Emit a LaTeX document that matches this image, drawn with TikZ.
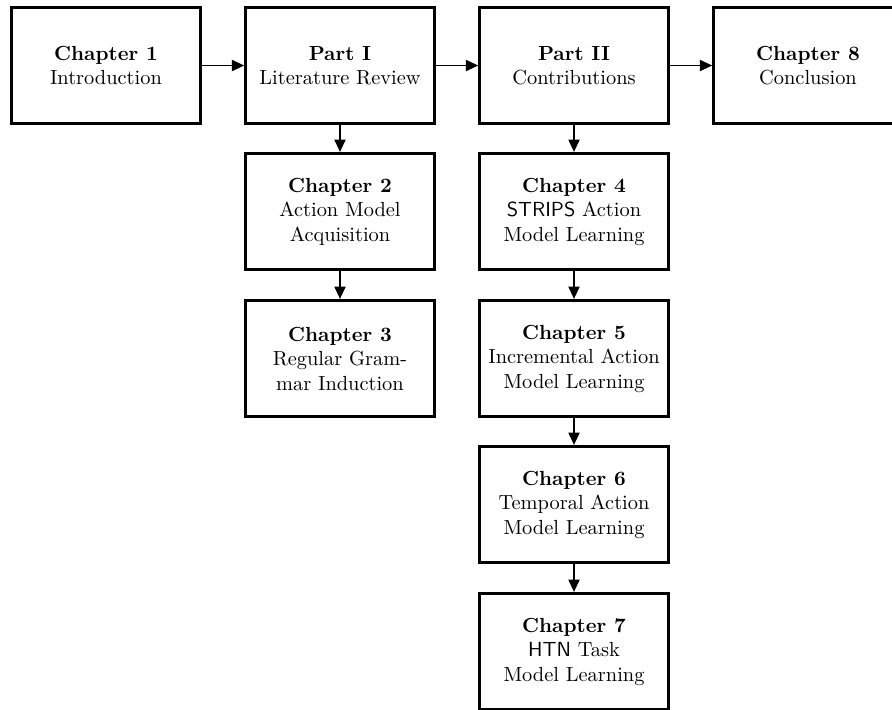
\documentclass[tikz,border=0pt]{standalone}
\usetikzlibrary{arrows.meta}
\begin{document}
\begin{tikzpicture}[x=0.49pt,y=-0.49pt,
  chbox/.style={draw, line width=1.45pt, minimum width=92.5pt, minimum height=57pt, align=center, font=\normalsize, inner sep=2pt},
  conn/.style={line width=0.6pt, -{Triangle[length=6pt,width=5.5pt]}}]
\useasboundingbox (0,0) rectangle (892,709);
\node[chbox] (c1) at (106,65.5) {\textbf{Chapter 1}\\Introduction};
\node[chbox] (p1) at (340,65.5) {\textbf{Part I}\\Literature Review};
\node[chbox] (p2) at (574,65.5) {\textbf{Part II}\\Contributions};
\node[chbox] (c8) at (808,65.5) {\textbf{Chapter 8}\\Conclusion};
\node[chbox] (c2) at (340,211.5) {\textbf{Chapter 2}\\Action Model\\Acquisition};
\node[chbox] (c3) at (340,358.5) {\textbf{Chapter 3}\\Regular Gram-\\mar Induction};
\node[chbox] (c4) at (574,211.5) {\textbf{Chapter 4}\\\textsf{STRIPS} Action\\Model Learning};
\node[chbox] (c5) at (574,358.5) {\textbf{Chapter 5}\\Incremental Action\\Model Learning};
\node[chbox] (c6) at (574,504.5) {\textbf{Chapter 6}\\Temporal Action\\Model Learning};
\node[chbox] (c7) at (574,651.5) {\textbf{Chapter 7}\\\textsf{HTN} Task\\Model Learning};
\draw[conn] (c1) -- (p1);
\draw[conn] (p1) -- (p2);
\draw[conn] (p2) -- (c8);
\draw[conn] (p1) -- (c2);
\draw[conn] (c2) -- (c3);
\draw[conn] (p2) -- (c4);
\draw[conn] (c4) -- (c5);
\draw[conn] (c5) -- (c6);
\draw[conn] (c6) -- (c7);
\end{tikzpicture}
\end{document}
